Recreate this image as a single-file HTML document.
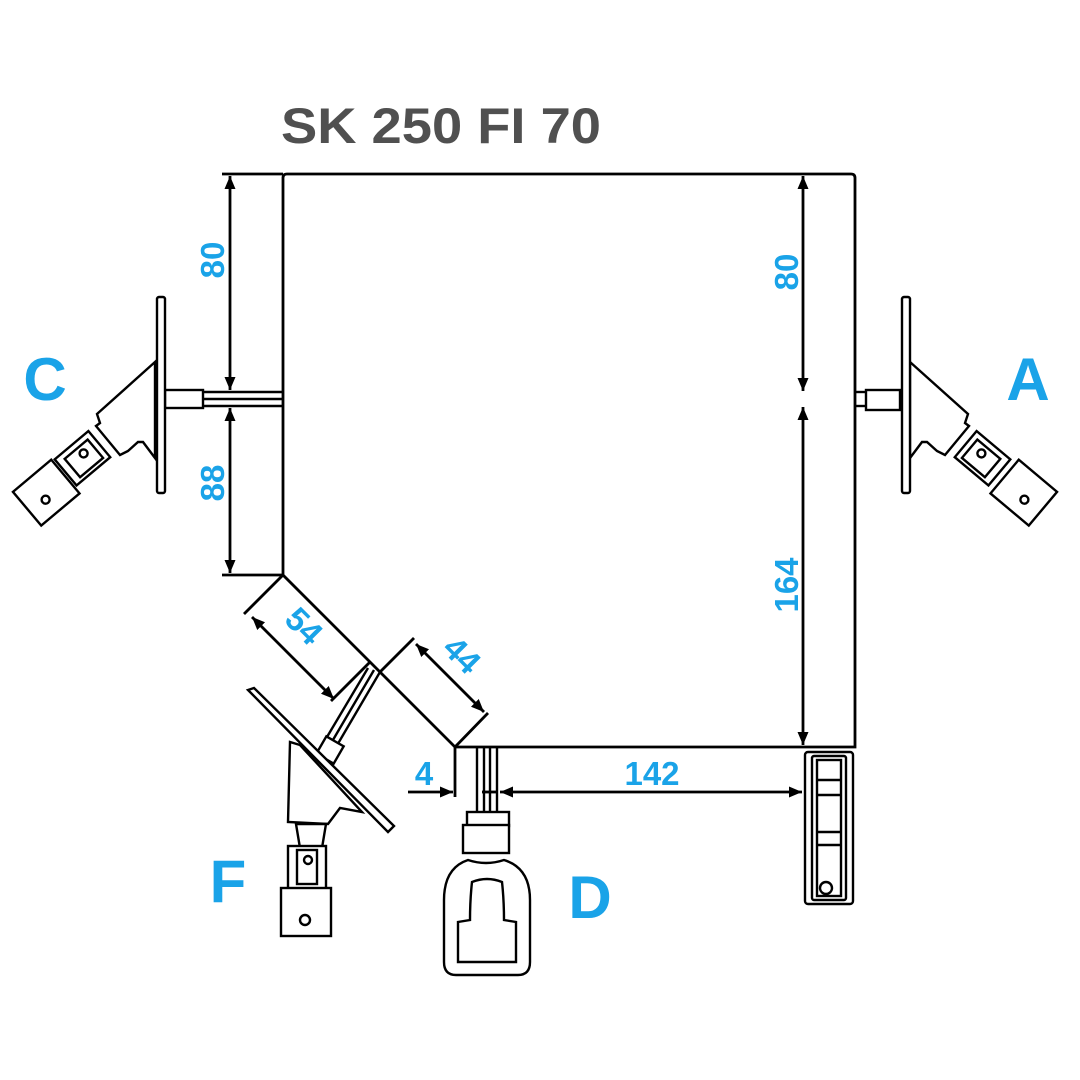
<!DOCTYPE html>
<html><head><meta charset="utf-8"><style>html,body{margin:0;padding:0;background:#fff}svg{display:block}</style></head>
<body>
<svg width="1080" height="1080" viewBox="0 0 1080 1080" xmlns="http://www.w3.org/2000/svg">
<defs>
<marker id="ar" markerWidth="13" markerHeight="11" refX="13" refY="5.5" orient="auto-start-reverse" markerUnits="userSpaceOnUse">
<path d="M0,0 L13,5.5 L0,11 z" fill="#000"/></marker>
</defs>
<text x="281" y="143" font-family="Liberation Sans, sans-serif" font-weight="bold" font-size="50" fill="#505050" textLength="320" lengthAdjust="spacingAndGlyphs">SK 250 FI 70</text>

<g fill="none" stroke="#000" stroke-width="2.8">
<path d="M283,575 L283,178 Q283,174 287,174 L851,174 Q855,174 855,178 L855,747 L455,747 Z"/>
<line x1="222" y1="174" x2="283" y2="174"/>
<line x1="222" y1="575" x2="283" y2="575"/>
<line x1="230" y1="176" x2="230" y2="390" marker-start="url(#ar)" marker-end="url(#ar)"/>
<line x1="230" y1="408" x2="230" y2="573" marker-start="url(#ar)" marker-end="url(#ar)"/>
<line x1="803" y1="176" x2="803" y2="391" marker-start="url(#ar)" marker-end="url(#ar)"/>
<line x1="803" y1="407" x2="803" y2="745" marker-start="url(#ar)" marker-end="url(#ar)"/>
<line x1="283" y1="575" x2="244" y2="614"/>
<line x1="370" y1="662" x2="331" y2="701"/>
<line x1="252" y1="617" x2="334" y2="699" marker-start="url(#ar)" marker-end="url(#ar)"/>
<line x1="380" y1="672" x2="414" y2="638"/>
<line x1="455" y1="747" x2="488" y2="713"/>
<line x1="416" y1="644" x2="484" y2="712" marker-start="url(#ar)" marker-end="url(#ar)"/>
<line x1="455" y1="747" x2="455" y2="797"/>
<line x1="408" y1="792" x2="453" y2="792" marker-end="url(#ar)"/>
<line x1="500" y1="792" x2="802" y2="792" marker-start="url(#ar)" marker-end="url(#ar)"/>
<line x1="482" y1="792" x2="498" y2="792"/>
</g>

<g fill="#1aa3e8" font-family="Liberation Sans, sans-serif" font-weight="bold">
<text font-size="33" transform="translate(224,260) rotate(-90)" text-anchor="middle">80</text>
<text font-size="33" transform="translate(224,483) rotate(-90)" text-anchor="middle">88</text>
<text font-size="33" transform="translate(798,272) rotate(-90)" text-anchor="middle">80</text>
<text font-size="33" transform="translate(798,585) rotate(-90)" text-anchor="middle">164</text>
<text font-size="33" transform="translate(296,634) rotate(45)" text-anchor="middle">54</text>
<text font-size="33" transform="translate(454,663) rotate(45)" text-anchor="middle">44</text>
<text font-size="33" x="424" y="785" text-anchor="middle">4</text>
<text font-size="33" x="652" y="785" text-anchor="middle">142</text>
<text font-size="60" x="45" y="400" text-anchor="middle">C</text>
<text font-size="60" x="1028" y="400" text-anchor="middle">A</text>
<text font-size="60" x="228" y="902" text-anchor="middle">F</text>
<text font-size="60" x="590" y="918" text-anchor="middle">D</text>
</g>

<g fill="#fff" stroke="#000" stroke-width="2.4">
<line x1="203" y1="392" x2="283" y2="392"/><line x1="203" y1="399" x2="283" y2="399"/><line x1="203" y1="406" x2="283" y2="406"/>
<rect x="165" y="390" width="38" height="18"/>
<path d="M155,362 L97,414 L100,423 L96,426 L120,455 L128,451 L138,442 L143,442 L155,458 Z"/>
<g transform="translate(84,457) rotate(-40)"><rect x="-24" y="-17" width="44" height="34"/><rect x="-16" y="-11" width="30" height="24"/><circle cx="2" cy="-3" r="4"/></g>
<g transform="translate(47,492) rotate(-40)"><rect x="-26" y="-22" width="50" height="44"/><circle cx="-6" cy="5" r="4"/></g>
<rect x="157" y="297" width="8" height="196" rx="2"/>
<line x1="855" y1="392" x2="868" y2="392"/><line x1="855" y1="406" x2="868" y2="406"/>
<rect x="866" y="390" width="34" height="20"/>
<g transform="translate(1065,0) scale(-1,1)">
<path d="M155,362 L97,414 L100,423 L96,426 L120,455 L128,451 L138,442 L143,442 L155,458 Z"/>
<g transform="translate(84,457) rotate(-40)"><rect x="-24" y="-17" width="44" height="34"/><rect x="-16" y="-11" width="30" height="24"/><circle cx="2" cy="-3" r="4"/></g>
<g transform="translate(42,492) rotate(-40)"><rect x="-26" y="-22" width="50" height="44"/><circle cx="-6" cy="5" r="4"/></g>
<rect x="155" y="297" width="8" height="196" rx="2"/>
</g>
<line x1="374" y1="670" x2="330" y2="745"/><line x1="380" y1="672" x2="336" y2="747"/><line x1="368" y1="668" x2="324" y2="742"/>
<g transform="translate(330,750) rotate(30)"><rect x="-10" y="-10" width="20" height="20"/></g>
<path d="M290,742 L288,822 L328,824 L340,808 L362,812 L300,745 Z"/>
<path d="M296,824 L300,848 L322,848 L326,824 Z"/>
<rect x="288" y="846" width="38" height="44"/><rect x="297" y="850" width="20" height="34"/><circle cx="308" cy="860" r="4"/>
<rect x="281" y="888" width="50" height="48"/><circle cx="305" cy="920" r="5"/>
<path d="M248,690 L254,688 L394,826 L388,832 Z"/>
<line x1="477" y1="747" x2="477" y2="812"/><line x1="484" y1="747" x2="484" y2="812"/><line x1="490" y1="747" x2="490" y2="812"/><line x1="497" y1="747" x2="497" y2="812"/>
<rect x="467" y="812" width="42" height="14"/>
<rect x="463" y="825" width="46" height="28"/>
<path d="M468,860 Q486,866 504,860 Q530,868 530,900 L530,962 Q530,975 518,975 L456,975 Q444,975 444,962 L444,900 Q444,868 468,860 Z"/>
<path d="M472,882 Q487,876 502,882 Q504,900 504,920 L516,922 L516,962 L458,962 L458,922 L470,920 Q470,900 472,882 Z"/>
<rect x="805" y="752" width="48" height="152" rx="3"/>
<rect x="812" y="756" width="34" height="144" rx="2"/>
<rect x="817" y="760" width="24" height="136"/>
<line x1="817" y1="780" x2="841" y2="780"/><line x1="817" y1="795" x2="841" y2="795"/>
<line x1="817" y1="832" x2="841" y2="832"/><line x1="817" y1="845" x2="841" y2="845"/>
<circle cx="826" cy="888" r="6"/>
</g>
</svg>
</body></html>
